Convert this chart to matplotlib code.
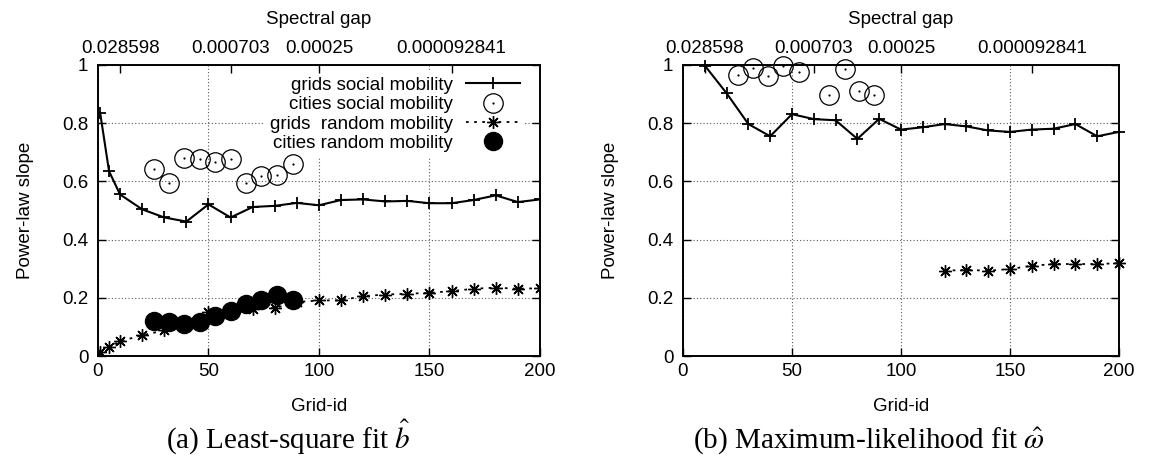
import matplotlib

matplotlib.use("Agg")
import matplotlib.pyplot as plt
from matplotlib.path import Path

plt.rcParams["font.family"] = ["Liberation Sans", "DejaVu Sans"]
plt.rcParams["mathtext.fontset"] = "stix"

# Grid ids used for the grid series
grid_x = [1, 5, 10, 20, 30, 40, 50, 60, 70, 80, 90, 100,
          110, 120, 130, 140, 150, 160, 170, 180, 190, 200]

# (a) least-square fit
ls_grids_social = [0.835, 0.635, 0.555, 0.504, 0.476, 0.462, 0.521, 0.476, 0.512, 0.516, 0.526,
                   0.518, 0.536, 0.538, 0.531, 0.533, 0.525, 0.525, 0.536, 0.552, 0.529, 0.538]
ls_grids_random = [0.014, 0.031, 0.051, 0.071, 0.088, 0.11, 0.151, 0.155, 0.162, 0.165, 0.185,
                   0.191, 0.191, 0.206, 0.211, 0.214, 0.217, 0.223, 0.231, 0.235, 0.231, 0.233]
city_x = [25.4, 32.2, 39.1, 46.0, 52.8, 60.1, 67.2, 74.0, 81.1, 88.1]
ls_cities_social = [0.644, 0.595, 0.679, 0.678, 0.665, 0.678, 0.593, 0.618, 0.622, 0.659]
ls_cities_random = [0.119, 0.117, 0.109, 0.117, 0.136, 0.153, 0.179, 0.191, 0.210, 0.194]

# (b) maximum-likelihood fit
ml_grids_social_x = grid_x[2:]
ml_grids_social = [0.998, 0.903, 0.797, 0.755, 0.831, 0.814, 0.810, 0.746, 0.815, 0.778,
                   0.786, 0.797, 0.789, 0.775, 0.770, 0.778, 0.781, 0.797, 0.755, 0.770]
ml_city_x = [25.1, 32.1, 39.1, 46.1, 53.0, 67.1, 74.1, 80.8, 87.8]
ml_cities_social = [0.965, 0.991, 0.962, 0.998, 0.977, 0.897, 0.986, 0.909, 0.896]
ml_grids_random_x = [120, 130, 140, 150, 160, 170, 180, 190, 200]
ml_grids_random = [0.293, 0.296, 0.293, 0.299, 0.310, 0.316, 0.316, 0.316, 0.319]

gap_ticks = [10, 60, 100, 160]
gap_labels = ["0.028598", "0.000703", "0.00025", "0.000092841"]

FS = 13.5
circle_dot = Path.make_compound_path(Path.circle((0, 0), 1.0), Path.circle((0, 0), 0.05))
asterisk = (8, 2, 0)


def style_axes(ax):
    ax.set_xlim(0, 200)
    ax.set_ylim(0, 1)
    ax.set_xticks([0, 50, 100, 150, 200])
    ax.set_yticks([0, 0.2, 0.4, 0.6, 0.8, 1])
    ax.set_yticklabels(["0", "0.2", "0.4", "0.6", "0.8", "1"])
    ax.tick_params(direction="in", length=6, width=1, top=True, right=True,
                   labelsize=FS)
    ax.tick_params(axis="y", pad=7)
    ax.tick_params(axis="x", pad=5)
    ax.grid(True, color="0.35", linestyle=(0, (1, 2)), linewidth=0.8)
    for s in ax.spines.values():
        s.set_linewidth(1.2)
    ax.set_xlabel("Grid-id", fontsize=FS, labelpad=13)
    ax.set_ylabel("Power-law slope", fontsize=FS, labelpad=20)
    ax2 = ax.twiny()
    ax2.set_xlim(0, 200)
    ax2.set_xticks(gap_ticks)
    ax2.set_xticklabels(gap_labels)
    ax2.tick_params(direction="in", length=6, width=1, labelsize=FS, pad=6)
    ax2.set_xlabel("Spectral gap", fontsize=FS, labelpad=11)
    for s in ax2.spines.values():
        s.set_linewidth(1.2)
    return ax2


fig = plt.figure(figsize=(11.5, 4.57), dpi=100)
ax_a = fig.add_axes([0.0852, 0.221, 0.3843, 0.6368])
ax_b = fig.add_axes([0.5939, 0.221, 0.3791, 0.6368])

# (a)
ax_a.plot(grid_x, ls_grids_social, color="black", lw=1.5, marker="+", ms=8, mew=1.3,
          label="grids social mobility")
ax_a.plot(city_x, ls_cities_social, ls="none", marker=circle_dot, ms=14, mfc="none",
          mec="black", mew=0.9, zorder=6, label="cities social mobility")
ax_a.plot(grid_x, ls_grids_random, color="black", lw=1.3, ls=(0, (1.5, 3)), marker=asterisk,
          ms=9, mew=1.0, label="grids  random mobility")
ax_a.plot(city_x, ls_cities_random, ls="none", marker="o", ms=13, color="black",
          label="cities random mobility")
style_axes(ax_a)
leg = ax_a.legend(loc="upper right", bbox_to_anchor=(0.966, 0.976), fontsize=FS,
                  markerfirst=False, frameon=True, fancybox=False, framealpha=1,
                  edgecolor="none", borderaxespad=0, borderpad=0.25, labelspacing=0.12,
                  handlelength=2.9, handletextpad=0.7)
leg.set_zorder(5)

# (b)
ax_b.plot(ml_grids_social_x, ml_grids_social, color="black", lw=1.5, marker="+", ms=8,
          mew=1.3, clip_on=False)
ax_b.plot(ml_city_x, ml_cities_social, ls="none", marker=circle_dot, ms=14, mfc="none",
          mec="black", mew=0.9, clip_on=False)
ax_b.plot(ml_grids_random_x, ml_grids_random, color="black", lw=1.3, ls=(0, (1.5, 3)),
          marker=asterisk, ms=9, mew=1.0, clip_on=False)
style_axes(ax_b)

fig.text(0.2504, 0.0197, r"(a) Least-square fit $\hat{b}$", family="Liberation Serif",
         fontsize=21, ha="center", va="baseline")
fig.text(0.7557, 0.0197, r"(b) Maximum-likelihood fit $\hat{\omega}$", family="Liberation Serif",
         fontsize=21, ha="center", va="baseline")

fig.savefig("out.png", dpi=100)
